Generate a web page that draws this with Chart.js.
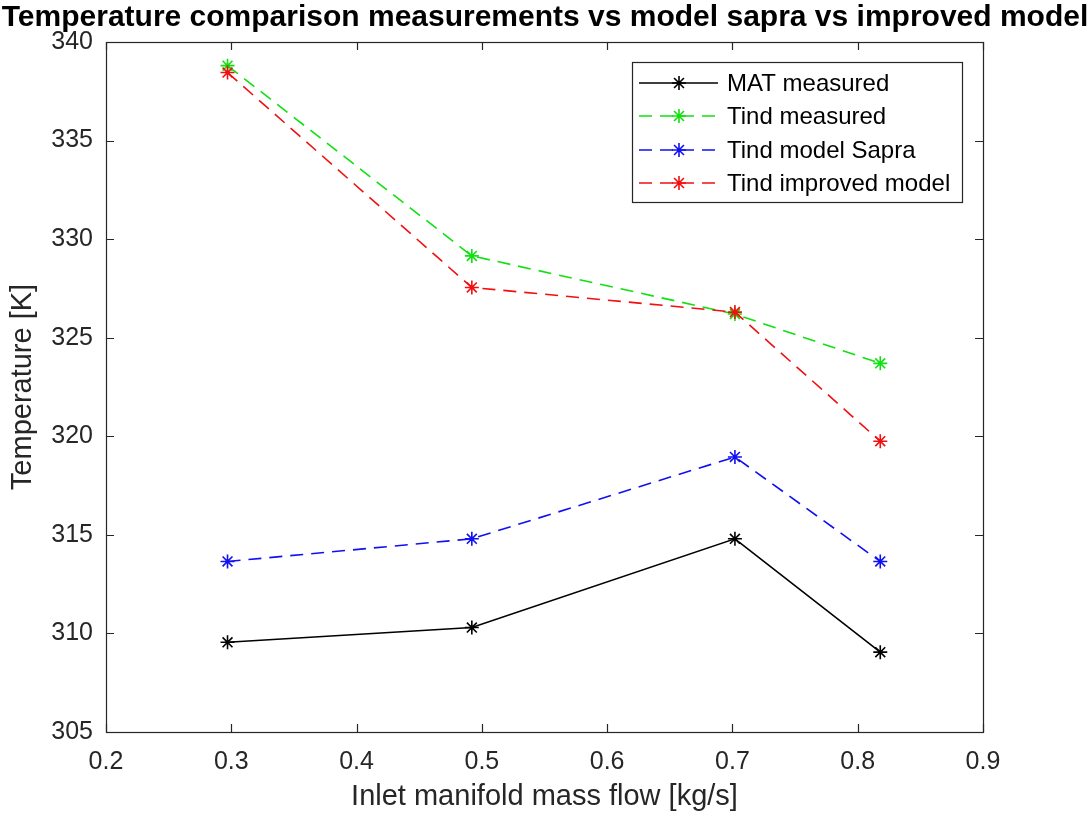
<!DOCTYPE html>
<html>
<head>
<meta charset="utf-8">
<script src="https://cdn.jsdelivr.net/npm/chart.js@4/dist/chart.umd.min.js"></script>
<style>
html,body{margin:0;padding:0;background:#fff;}
canvas{display:block;}
</style>
</head>
<body>
<canvas id="chartTemp" width="1090" height="821"></canvas>
<script>
// values
const massFlow = [0.297, 0.492, 0.702, 0.818];
const matMeasured = [309.55, 310.3, 314.8, 309.05];
const tindMeasured = [338.8, 329.15, 326.2, 323.7];
const tindSapra = [313.65, 314.8, 318.95, 313.65];
const tindImproved = [338.45, 327.55, 326.3, 319.75];

const xTicks = [0.2, 0.3, 0.4, 0.5, 0.6, 0.7, 0.8, 0.9];
const yTicks = [305, 310, 315, 320, 325, 330, 335, 340];

const FONT = "'Liberation Sans', Arial, Helvetica, sans-serif";
const AXIS = "#262626";

function pts(ys){
return massFlow.map((x,i)=>({x:x,y:ys[i]}));
}

function series(label,ys,color,dash,order){
return {
label:label,
data:pts(ys),
borderColor:color,
backgroundColor:color,
borderWidth:1.6,
borderDash:dash,
pointStyle:"star",
pointRadius:7,
pointBorderWidth:1.6,
pointBorderColor:color,
fill:false,
tension:0,
order:order
};
}

const datasets = [
series("MAT measured",matMeasured,"#000000",[],4),
series("Tind measured",tindMeasured,"#11e011",[13,8],3),
series("Tind model Sapra",tindSapra,"#1010f0",[13,8],2),
series("Tind improved model",tindImproved,"#f01010",[13,8],1)
];

/* box + inward ticks + legend box, matlab style */
const matlabAxes = {
id:"matlabAxes",
afterDatasetsDraw(chart){
const ctx = chart.ctx;
const a = chart.chartArea;
const xs = chart.scales.x, ys = chart.scales.y;
const tl = 8;
ctx.save();
ctx.strokeStyle = AXIS;
ctx.lineWidth = 1.2;
ctx.beginPath();
xTicks.forEach(v=>{
const px = Math.round(xs.getPixelForValue(v))+0.5;
ctx.moveTo(px,a.bottom); ctx.lineTo(px,a.bottom-tl);
ctx.moveTo(px,a.top); ctx.lineTo(px,a.top+tl);
});
yTicks.forEach(v=>{
const py = Math.round(ys.getPixelForValue(v))+0.5;
ctx.moveTo(a.left,py); ctx.lineTo(a.left+tl,py);
ctx.moveTo(a.right,py); ctx.lineTo(a.right-tl,py);
});
ctx.stroke();
ctx.strokeRect(Math.round(a.left)+0.5,Math.round(a.top)+0.5,Math.round(a.right-a.left),Math.round(a.bottom-a.top));

/* legend */
const lx = 632, ly = 62, lw = 330, lh = 140;
ctx.fillStyle = "#fff";
ctx.fillRect(lx,ly,lw,lh);
ctx.strokeStyle = "#262626";
ctx.lineWidth = 1.2;
ctx.strokeRect(lx+0.5,ly+0.5,lw,lh);
const rows = [83,116,150,183];
ctx.font = "24px " + FONT;
ctx.textBaseline = "middle";
ctx.textAlign = "left";
chart.data.datasets.forEach((ds,i)=>{
const y = rows[i];
ctx.strokeStyle = ds.borderColor;
ctx.lineWidth = ds.borderWidth;
ctx.setLineDash(ds.borderDash);
ctx.beginPath();
ctx.moveTo(639,y); ctx.lineTo(718,y);
ctx.stroke();
ctx.setLineDash([]);
Chart.helpers.drawPoint(ctx,{pointStyle:"star",radius:7,borderWidth:1.6},679,y);
ctx.fillStyle = "#000";
ctx.fillText(ds.label,727,y+1);
});
ctx.restore();
}
};

new Chart(document.getElementById("chartTemp"),{
type:"line",
data:{datasets},
plugins:[matlabAxes],
options:{
responsive:false,
animation:false,
layout:{padding:0},
plugins:{
legend:{display:false},
tooltip:{enabled:false},
title:{
display:true,
text:"Temperature comparison measurements vs model sapra vs improved model",
color:"#000",
font:{family:FONT,size:30,weight:"bold"},
padding:{top:0,bottom:6}
}
},
scales:{
x:{
type:"linear",
min:0.2,max:0.9,
afterFit(s){ s.height = 89; },
afterBuildTicks(s){ s.ticks = xTicks.map(v=>({value:v})); },
grid:{display:false,drawTicks:false},
border:{display:false},
ticks:{
color:AXIS,
font:{family:FONT,size:25},
padding:15,
maxRotation:0,
callback:v=>v.toFixed(1)
},
title:{
display:true,
text:"Inlet manifold mass flow [kg/s]",
color:AXIS,
font:{family:FONT,size:29},
padding:{top:0,bottom:7}
}
},
y:{
min:305,max:340,
afterFit(s){ s.width = 106; },
afterBuildTicks(s){ s.ticks = yTicks.map(v=>({value:v})); },
grid:{display:false,drawTicks:false},
border:{display:false},
ticks:{
color:AXIS,
font:{family:FONT,size:25},
padding:13,
callback:v=>String(v)
},
title:{
display:true,
text:"Temperature [K]",
color:AXIS,
font:{family:FONT,size:29},
padding:{top:6,bottom:0}
}
},
yRight:{
position:"right",
min:305,max:340,
afterFit(s){ s.width = 107; },
grid:{display:false,drawTicks:false},
border:{display:false},
ticks:{display:false}
}
}
}
});
</script>
</body>
</html>
